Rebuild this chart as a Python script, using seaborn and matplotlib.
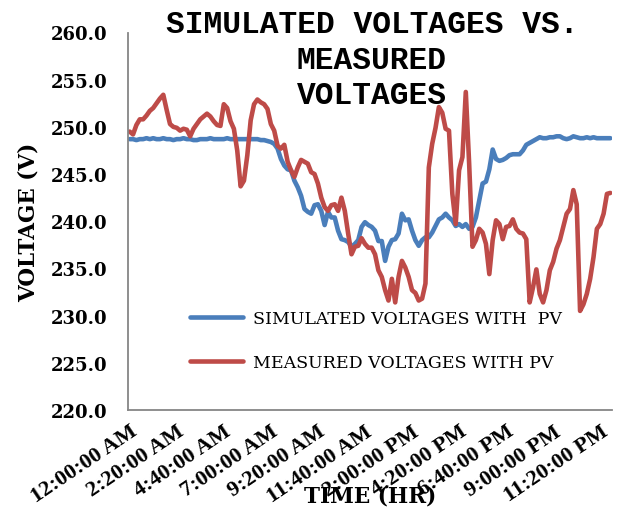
import numpy as np
import pandas as pd
import matplotlib
matplotlib.use("Agg")
import matplotlib.pyplot as plt
from matplotlib.lines import Line2D
import seaborn as sns

# ---------------- data ----------------
tick_labels = ["12:00:00 AM", "2:20:00 AM", "4:40:00 AM", "7:00:00 AM",
               "9:20:00 AM", "11:40:00 AM", "2:00:00 PM", "4:20:00 PM",
               "6:40:00 PM", "9:00:00 PM", "11:20:00 PM"]

series_names = ["SIMULATED VOLTAGES WITH  PV", "MEASURED VOLTAGES WITH PV"]

simulated = [
    248.7, 248.7, 248.6, 248.7, 248.7, 248.8, 248.7, 248.8, 248.7, 248.7,
    248.8, 248.7, 248.7, 248.6, 248.7, 248.7, 248.8, 248.7, 248.7, 248.6,
    248.6, 248.7, 248.7, 248.7, 248.8, 248.7, 248.7, 248.7, 248.7, 248.8,
    248.7, 248.7, 248.7, 248.7, 248.7, 248.7, 248.7, 248.7, 248.7, 248.6,
    248.6, 248.5, 248.4, 248.2, 247.7, 246.6, 245.9, 245.5, 245.4, 244.3,
    243.6, 242.7, 241.3, 241.0, 240.8, 241.7, 241.8, 241.1, 239.6, 241.0,
    240.4, 240.4, 239.0, 238.1, 238.0, 237.8, 237.3, 237.6, 238.0, 239.4,
    239.9, 239.6, 239.4, 239.0, 237.9, 237.9, 235.8, 237.3, 238.0, 238.1,
    238.7, 240.8, 240.1, 240.2, 239.0, 238.0, 237.4, 238.0, 238.3, 238.3,
    238.8, 239.5, 240.2, 240.4, 240.8, 240.4, 240.1, 239.5, 239.7, 239.4,
    239.7, 239.2, 239.4, 240.4, 242.2, 244.0, 244.2, 245.5, 247.6, 246.6,
    246.4, 246.5, 246.7, 247.0, 247.1, 247.1, 247.1, 247.5, 248.1, 248.3,
    248.5, 248.7, 248.9, 248.8, 248.8, 248.9, 248.9, 249.0, 249.0, 248.8,
    248.7, 248.8, 249.0, 248.9, 248.8, 248.8, 248.9, 248.8, 248.9, 248.8,
    248.8, 248.8, 248.8, 248.8,
]

measured = [
    249.5, 249.2, 250.2, 250.8, 250.8, 251.2, 251.7, 252.0, 252.5, 253.0,
    253.4, 251.8, 250.3, 250.0, 249.9, 249.6, 249.8, 249.7, 249.0, 249.8,
    250.3, 250.8, 251.1, 251.4, 251.1, 250.6, 250.2, 250.1, 252.4, 252.0,
    250.6, 249.8, 247.5, 243.7, 244.3, 247.0, 250.7, 252.4, 252.9, 252.6,
    252.4, 251.9, 250.3, 249.6, 248.0, 247.7, 248.1, 246.3, 245.4, 244.7,
    245.7, 246.5, 246.3, 246.1, 245.2, 245.0, 244.0, 242.5, 241.5, 241.1,
    241.7, 241.8, 241.1, 242.5, 241.1, 238.7, 236.5, 237.3, 237.4, 238.2,
    237.6, 237.2, 237.2, 236.5, 234.8, 234.1, 232.7, 231.6, 233.9, 231.4,
    234.1, 235.8, 235.1, 234.1, 232.7, 232.4, 231.6, 231.8, 233.4, 245.7,
    248.2, 249.9, 252.1, 251.5, 249.8, 249.6, 242.9, 239.7, 245.4, 246.8,
    253.7, 246.1, 237.3, 238.0, 239.2, 238.8, 237.6, 234.4, 238.0, 240.1,
    239.7, 238.1, 239.4, 239.5, 240.2, 239.2, 238.8, 238.7, 238.1, 231.4,
    233.0, 234.9, 232.3, 231.4, 232.7, 234.8, 235.7, 237.1, 238.0, 239.4,
    240.8, 241.3, 243.3, 241.8, 230.5, 231.2, 232.3, 233.9, 236.2, 239.2,
    239.7, 240.8, 242.9, 243.0,
]

y_ticks = [220, 225, 230, 235, 240, 245, 250, 255, 260]

# ---------------- style ----------------
sns.set_style("white")
plt.rcParams["font.family"] = ["DejaVu Serif", "DejaVu Sans"]
plt.rcParams["text.color"] = "black"
plt.rcParams["xtick.labelcolor"] = "black"
plt.rcParams["ytick.labelcolor"] = "black"

BLUE = "#4A7EBB"
RED = "#BE4B48"
AXC = "#868686"

n = len(simulated)
idx = np.arange(n)
df = pd.DataFrame({
    "idx": np.concatenate([idx, idx]),
    "V": np.concatenate([simulated, measured]),
    "series": [series_names[0]] * n + [series_names[1]] * n,
})

W, H = 618, 510
fig = plt.figure(figsize=(W / 100, H / 100), dpi=100)
ax = fig.add_axes([128 / W, 1 - 411 / H, (612 - 128) / W, (411 - 33.5) / H])

sns.lineplot(data=df, x="idx", y="V", hue="series", hue_order=series_names,
             palette=[BLUE, RED], linewidth=3.3, errorbar=None, legend=False,
             ax=ax, solid_capstyle="round", solid_joinstyle="round")

ax.set_xlim(-0.5, n - 0.5)
ax.set_ylim(220, 260)
ax.set_yticks(y_ticks)
ax.set_yticklabels([f"{v:.1f}" for v in y_ticks], fontsize=13, fontweight="bold",
                   color="black")

label_pos = list(range(0, n, 14))[:len(tick_labels)]
ax.set_xticks(label_pos)
ax.set_xticklabels(tick_labels, rotation=34, ha="right", va="top",
                   rotation_mode="anchor", fontsize=16, fontweight="bold",
                   family="Liberation Serif", color="black")
ax.set_xticks(np.arange(-0.5, n - 0.5, 5), minor=True)

ax.tick_params(axis="x", which="major", length=0, pad=8)
ax.tick_params(axis="x", which="minor", length=4.5, width=1, color=AXC, direction="out")
ax.tick_params(axis="y", which="major", length=4.5, width=1, color=AXC,
               direction="out", pad=10)
ax.set_xlabel("")
ax.set_ylabel("")

for s in ["top", "right"]:
    ax.spines[s].set_visible(False)
for s in ["left", "bottom"]:
    ax.spines[s].set_color(AXC)
    ax.spines[s].set_linewidth(1.3)
ax.grid(False)

handles = [Line2D([], [], color=BLUE, lw=3.3, solid_capstyle="round"),
           Line2D([], [], color=RED, lw=3.3, solid_capstyle="round")]
leg = ax.legend(handles, series_names, loc="center left",
                bbox_to_anchor=(190 / W, 1 - 341.5 / H), bbox_transform=fig.transFigure,
                frameon=False, fontsize=12.5, handlelength=3.05, handletextpad=0.57,
                labelspacing=1.55, borderpad=0, borderaxespad=0)
for t in leg.get_texts():
    t.set_color("black")

# titles / axis labels
title_lines = ["SIMULATED VOLTAGES VS.", "MEASURED", "VOLTAGES"]
for line, yb in zip(title_lines, [33, 69, 104]):
    fig.text(372 / W, 1 - yb / H, line, ha="center", va="baseline",
             family="Liberation Mono", fontweight="bold", fontsize=22.5,
             color="black")

fig.text(29 / W, 1 - 222 / H, "VOLTAGE (V)", rotation=90, ha="center",
         va="center", fontsize=15.5, fontweight="bold", color="black")
fig.text(370 / W, 1 - 497 / H, "TIME (HR)", ha="center", va="center",
         fontsize=15.5, fontweight="bold", color="black")

fig.savefig("out.png", dpi=100)
